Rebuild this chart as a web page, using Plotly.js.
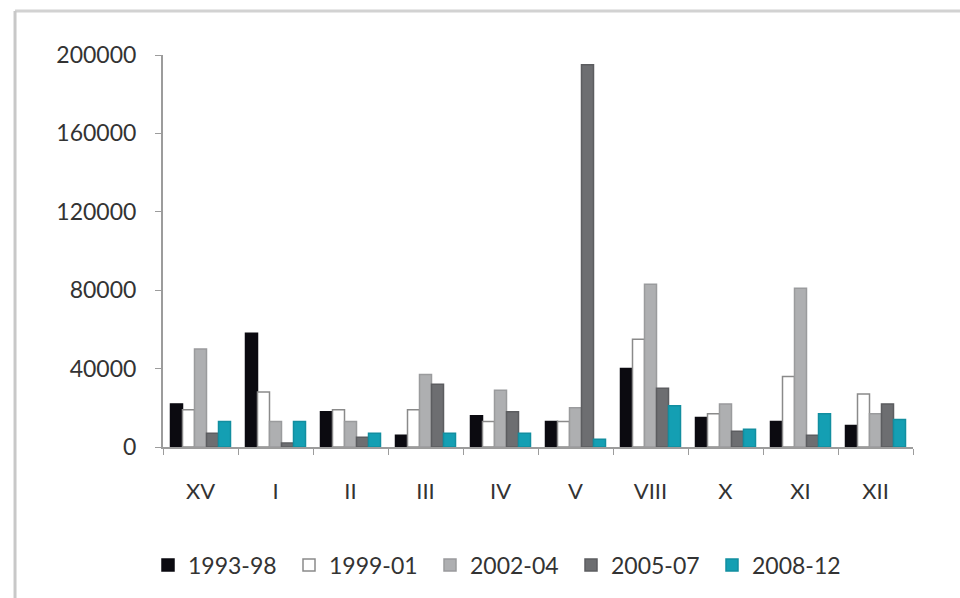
<!DOCTYPE html>
<html>
<head>
<meta charset="utf-8">
<script src="https://cdn.plot.ly/plotly-3.0.1.min.js"></script>
<style>
html,body{margin:0;padding:0;background:#fff;}
#chart{width:960px;height:598px;}
</style>
</head>
<body>
<div id="chart"></div>
<script>
const categories = ["XV","I","II","III","IV","V","VIII","X","XI","XII"];
const seriesNames = ["1993-98","1999-01","2002-04","2005-07","2008-12"];
const s1993_98 = [22000, 58000, 18000, 6000, 16000, 13000, 40000, 15000, 13000, 11000];
const s1999_01 = [19000, 28000, 19000, 19000, 13000, 13000, 55000, 17000, 36000, 27000];
const s2002_04 = [50000, 13000, 13000, 37000, 29000, 20000, 83000, 22000, 81000, 17000];
const s2005_07 = [7000, 2000, 5000, 32000, 18000, 195000, 30000, 8000, 6000, 22000];
const s2008_12 = [13000, 13000, 7000, 7000, 7000, 4000, 21000, 9000, 17000, 14000];
const yTicks = [0, 40000, 80000, 120000, 160000, 200000];

const allValues = [s1993_98, s1999_01, s2002_04, s2005_07, s2008_12];
const fills = ["#0b0a10", "#ffffff", "#aeafb1", "#6d6e71", "#149fb3"];
const lines = ["#0b0a10", "#8a8a8a", "#9a9b9d", "#5c5d60", "#128ea0"];

const traces = allValues.map((vals, i) => ({
  type: "bar",
  name: seriesNames[i],
  x: categories,
  y: vals,
  marker: {color: fills[i], line: {color: lines[i], width: 1.5}},
  hoverinfo: "x+y+name"
}));

const layout = {
  width: 960,
  height: 598,
  paper_bgcolor: "#ffffff",
  plot_bgcolor: "#ffffff",
  margin: {l: 163, r: 47, t: 55, b: 151, autoexpand: false},
  barmode: "group",
  bargap: 0.2,
  bargroupgap: 0,
  font: {family: "Lato, 'Open Sans', sans-serif", size: 23, color: "#333333"},
  xaxis: {
    type: "category",
    showgrid: false,
    zeroline: false,
    showline: true,
    linecolor: "#9c9c9c",
    linewidth: 2,
    ticks: "outside",
    tickson: "boundaries",
    ticklen: 6,
    tickcolor: "#9c9c9c",
    tickwidth: 1,
    tickfont: {size: 22, color: "#333333"},
    ticklabelstandoff: 24
  },
  yaxis: {
    range: [0, 200000],
    tickvals: yTicks,
    ticktext: yTicks.map(String),
    showgrid: false,
    zeroline: false,
    showline: true,
    linecolor: "#9c9c9c",
    linewidth: 2,
    ticks: "outside",
    ticklen: 6,
    tickcolor: "#9c9c9c",
    tickfont: {size: 23, color: "#333333"},
    ticklabelstandoff: 14
  },
  showlegend: true,
  legend: {
    orientation: "h",
    x: -0.02,
    xanchor: "left",
    y: -0.301,
    yanchor: "middle",
    entrywidth: 96,
    entrywidthmode: "pixels",
    font: {size: 23, color: "#333333"},
    bgcolor: "rgba(0,0,0,0)"
  },
  shapes: [
    {type: "line", xref: "paper", yref: "paper", x0: -0.1973, x1: 1.07, y0: 1.1122, y1: 1.1122,
     line: {color: "#d2d2d2", width: 3}},
    {type: "line", xref: "paper", yref: "paper", x0: -0.1973, x1: -0.1973, y0: 1.1122, y1: -0.40,
     line: {color: "#c8c8c8", width: 3}}
  ]
};

Plotly.newPlot("chart", traces, layout, {displayModeBar: false, staticPlot: true});
</script>
</body>
</html>
